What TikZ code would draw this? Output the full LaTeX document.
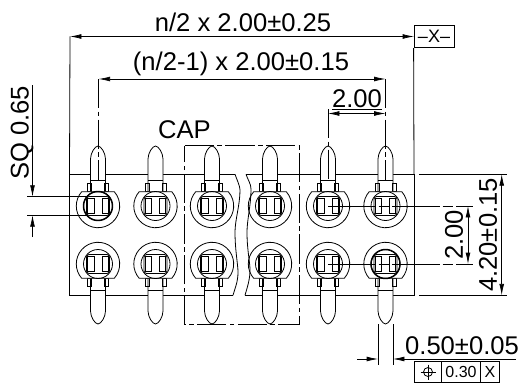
\documentclass[tikz,border=0pt]{standalone}
\usepackage{fontspec}
\setmainfont{Liberation Sans}
\usetikzlibrary{arrows.meta}
\tikzset{
	dim/.style={{Latex[length=8.5pt,width=3.6pt]}-{Latex[length=8.5pt,width=3.6pt]},line width=0.5pt},
	dimend/.style={-{Latex[length=8.5pt,width=3.6pt]},line width=0.5pt},
	cline/.style={line width=0.5pt,dash pattern=on 22pt off 2.5pt on 3.5pt off 2.5pt},
	hline/.style={line width=0.5pt,dash pattern=on 36pt off 2pt on 8pt off 2pt},
	bigtext/.style={font=\fontsize{19.2}{19}\selectfont,inner sep=0pt},
	smalltext/.style={font=\fontsize{12}{12}\selectfont,inner sep=0pt}
}
\newcommand{\pinunit}{
	\draw[fill=white] (-7.5,-14) -- (-7.5,-47) .. controls (-7.5,-53) and (-3,-60) .. (0,-60) .. controls (3,-60) and (7.5,-53) .. (7.5,-47) -- (7.5,-14);
	\draw (-7.5,-26) -- (7.5,-26);
	\draw (-10.5,-14.3) rectangle (-6.5,-22.7);
	\draw (6.5,-14.3) rectangle (10.5,-22.7);
	\draw[fill=white] (-16.3,-14.3) -- (16.3,-14.3) arc[start angle=-41.3,end angle=221.3,radius=21.7];
	\draw (0,0) circle (14.5);
	\draw[rounded corners=2pt] (-11.5,-9.5) rectangle (11.5,9.5);
	\draw (-10.3,-7.3) rectangle (-3.9,7.3);
	\draw (3.9,-7.3) rectangle (10.3,7.3);
}
\begin{document}
\begin{tikzpicture}[x=0.75pt,y=-0.75pt,line width=0.6pt]
	\useasboundingbox (0,0) rectangle (520,385);
	\draw (235,174.3) -- (69.5,174.3) -- (69.5,295.3) -- (233,295.3); % body, left part
	\draw (246,174.3) -- (414,174.3) -- (414,295.3) -- (245,295.3); % body, right part
	\foreach \x in {98,155.5,212,270,328,385.5} % the pins
	{
		\begin{scope}[shift={(\x,206)}]
			\pinunit
		\end{scope}
		\begin{scope}[shift={(\x,264)},yscale=-1]
			\pinunit
		\end{scope}
	}
	\draw (235,174.3) .. controls (237,180) and (240,186) .. (240,190) .. controls (240,205) and (235,220) .. (235,232) .. controls (235,250) and (238,265) .. (238,272) .. controls (238,282) and (235,288) .. (233,295.3);
	\draw (246,174.3) .. controls (248,180) and (251,184) .. (251,189) .. controls (251,205) and (247,220) .. (247,232) .. controls (247,250) and (250,262) .. (250,270) .. controls (250,280) and (247,288) .. (245,295.3);
	\draw[line width=1.1pt] (98,206) circle (14.5);
	\draw[line width=1.1pt] (385.5,264) circle (14.5);
	% the cap outline
	\draw[cline] (184.7,145.7) -- (299.3,145.7) -- (299.3,324) -- (184.7,324) -- cycle;
	\node[bigtext] (capname) at (184.5,130) {CAP};
	% width dimensions
	\coordinate (wl) at (70,36.5);
	\coordinate (wr) at (414,36.5);
	\draw[dim] (wl) -- (wr);
	\draw (wl) -- (69.5,174.3);
	\node[draw,minimum width=30pt,minimum height=17pt,smalltext,font=\fontsize{13.5}{13.5}\selectfont] (datumx) at (434,36.5) {–X–};
	\draw (datumx.south west) -- (414,174.3);
	\node[bigtext] (widthtext) at (243,22) {n/2 x 2.00±0.25};
	\coordinate (pl) at (98.7,79);
	\coordinate (pr) at (385.5,79);
	\draw[dim] (pl) -- (pr);
	\node[bigtext] (pitchtext) at (241,63.5) {(n/2-1) x 2.00±0.15};
	\coordinate (sl) at (328,113.5);
	\draw[dim] (sl) -- (385.5,113.5);
	\draw (332,109) -- (382,109);
	\node[bigtext] (steptext) at (357,99) {2.00};
	\draw (sl) ++(0,-4.5) -- ++(0,4.5);
	\foreach \x/\y in {98/79,328/109,385.5/79} % edit here for the centre lines
	\draw[cline] (\x,\y) -- (\x,180);
	% square size of the pin
	\draw (27,196.7) -- (88,196.7);
	\draw (27,215.3) -- (88,215.3);
	\draw[dimend] (32.5,85) -- (32.5,196.7);
	\draw[dimend] (32.5,237) -- (32.5,215.3);
	\node[bigtext,rotate=90] (sqtext) at (22,133) {SQ 0.65};
	% height dimensions
	\foreach \y in {206,264}
	\draw[hline] (328,\y) -- (473,\y);
	\draw[dim] (468,206) -- (468,264);
	\node[bigtext,rotate=90] (rowtext) at (454,235) {2.00};
	\draw (419,174.3) -- (507,174.3);
	\draw (419,295.3) -- (507,295.3);
	\draw[dim] (501.7,174.3) -- (501.7,295.3);
	\node[bigtext,rotate=90] (heighttext) at (488,235) {4.20±0.15};
	% pin width and tolerance frame
	\draw (378,324) -- (378,365);
	\draw (393,324) -- (393,365);
	\draw[dimend] (357,359) -- (378,359);
	\draw[dimend] (516,359) -- (393,359);
	\node[bigtext] (pintext) at (462,346) {0.50±0.05};
	\draw (414,361) rectangle (499,382.7);
	\draw (441.7,361) -- (441.7,382.7);
	\draw (480.7,361) -- (480.7,382.7);
	\draw (428,372) circle (4.5);
	\draw (420.5,372) -- (435.5,372);
	\draw (428,364.5) -- (428,379.5);
	\node[smalltext] (tolval) at (461,372) {0.30};
	\node[smalltext] (tolref) at (490,372) {X};
\end{tikzpicture}
\end{document}
